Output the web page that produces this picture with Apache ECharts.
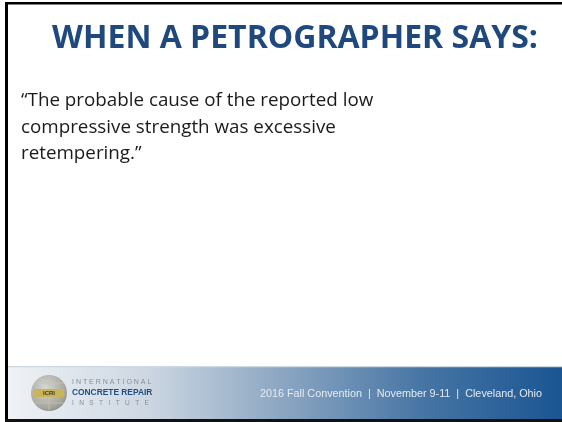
<!DOCTYPE html>
<html>
<head>
<meta charset="utf-8">
<script src="https://cdn.jsdelivr.net/npm/echarts@6/dist/echarts.min.js"></script>
<style>
  html, body { margin: 0; padding: 0; background: #fff; }
  #main { width: 562px; height: 422px; }
</style>
</head>
<body>
<div id="main"></div>
<script>
// slide texts
var titleText = ["WHEN A PETROGRAPHER SAYS:"];
var bodyLines = [
  "\u201CThe probable cause of the reported low",
  "compressive strength was excessive",
  "retempering.\u201D"
];
var logoLines = ["I N T E R N A T I O N A L", "CONCRETE REPAIR", "I   N   S   T   I   T   U   T   E"];
var footerText = ["2016 Fall Convention  |  November 9-11  |  Cleveland, Ohio"];

var chart = echarts.init(document.getElementById("main"));

var elements = [];

// frame
elements.push({
  type: "rect",
  shape: { x: 0, y: 0, width: 562, height: 422 },
  style: { fill: "#ffffff" }
});
elements.push({
  type: "rect",
  shape: { x: 5, y: 2, width: 3, height: 420 },
  style: { fill: "#000" }
});
elements.push({
  type: "rect",
  shape: { x: 5, y: 2, width: 557, height: 2.5 },
  style: { fill: "#000" }
});

// footer band
elements.push({
  type: "rect",
  shape: { x: 8, y: 367, width: 554, height: 52 },
  style: {
    fill: new echarts.graphic.LinearGradient(0, 0, 1, 0, [
      { offset: 0, color: "#eff2f6" },
      { offset: 0.25, color: "#cdd7e2" },
      { offset: 0.5, color: "#8aa5c1" },
      { offset: 0.75, color: "#4675a4" },
      { offset: 1, color: "#1a5592" }
    ])
  }
});
elements.push({
  type: "rect",
  shape: { x: 8, y: 366, width: 554, height: 1.2 },
  style: { fill: "#cfd8e2" }
});
elements.push({
  type: "rect",
  shape: { x: 5, y: 419, width: 557, height: 3 },
  style: { fill: "#111" }
});

// logo globe
var gx = 49, gy = 393, gr = 18;
elements.push({
  type: "circle",
  shape: { cx: gx, cy: gy, r: gr },
  style: {
    fill: new echarts.graphic.RadialGradient(0.4, 0.35, 0.8, [
      { offset: 0, color: "#d8d8d2" },
      { offset: 0.7, color: "#a6a69f" },
      { offset: 1, color: "#7d7d77" }
    ])
  }
});
[-10, 10].forEach(function (d) {
  elements.push({
    type: "line",
    shape: { x1: gx - 15, y1: gy + d, x2: gx + 15, y2: gy + d },
    style: { stroke: "#c4c4bd", lineWidth: 0.8 }
  });
});
elements.push({
  type: "line",
  shape: { x1: gx, y1: gy - 17, x2: gx, y2: gy + 17 },
  style: { stroke: "#c4c4bd", lineWidth: 0.8 }
});
elements.push({
  type: "rect",
  shape: { x: gx - 15, y: gy - 4, width: 30, height: 8 },
  style: { fill: "#c9b45a" }
});
elements.push({
  type: "text",
  style: {
    x: gx, y: gy, text: "ICRI", fill: "#3b3a2a",
    font: "bold 6px Liberation Sans", align: "center", verticalAlign: "middle"
  }
});

// logo text
elements.push({
  type: "text",
  style: {
    x: 72, y: 382, text: logoLines[0], fill: "#8b8f95",
    font: "7px Liberation Sans", verticalAlign: "middle"
  }
});
elements.push({
  type: "text",
  style: {
    x: 72, y: 392.5, text: logoLines[1], fill: "#1f4e84",
    font: "bold 8.4px Liberation Sans", verticalAlign: "middle"
  }
});
elements.push({
  type: "text",
  style: {
    x: 72, y: 403, text: logoLines[2], fill: "#8b8f95",
    font: "6.5px Liberation Sans", verticalAlign: "middle"
  }
});

// footer text
elements.push({
  type: "text",
  style: {
    x: 542, y: 394, text: footerText[0], fill: "#e4ebf3",
    font: "10.8px Liberation Sans", align: "right", verticalAlign: "middle"
  }
});

// title
elements.push({
  type: "text",
  style: {
    x: 295, y: 39, text: titleText[0], fill: "#1f497d",
    font: "bold 32px Open Sans", align: "center", verticalAlign: "middle"
  }
});

// body
bodyLines.forEach(function (line, i) {
  elements.push({
    type: "text",
    style: {
      x: 21, y: 101 + i * 26.5, text: line, fill: "#1a1a1a",
      font: "18.8px Open Sans", verticalAlign: "middle"
    }
  });
});

chart.setOption({
  animation: false,
  graphic: { elements: elements }
});
</script>
</body>
</html>
